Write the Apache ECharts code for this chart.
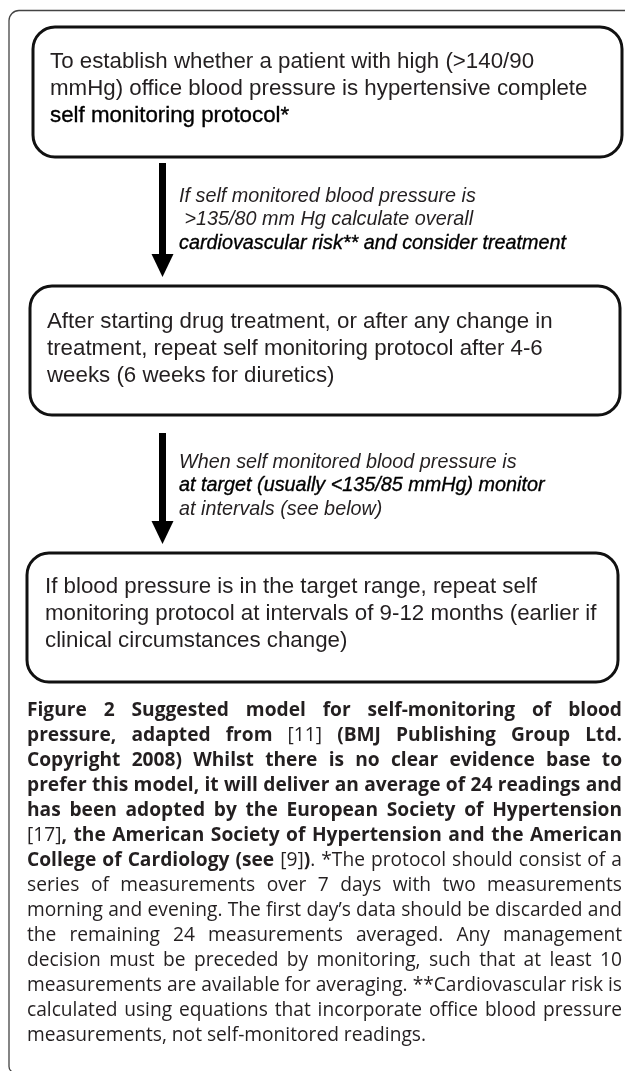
<!DOCTYPE html>
<html>
<head>
<meta charset="utf-8">
<script src="https://cdn.jsdelivr.net/npm/echarts@6/dist/echarts.min.js"></script>
<style>
html,body{margin:0;padding:0;background:#fff}
#main{width:625px;height:1071px}
</style>
</head>
<body>
<div id="main"></div>
<script>
/* texts of the flow chart */
var box1Lines = ['To establish whether a patient with high (>140/90', 'mmHg) office blood pressure is hypertensive complete', 'self monitoring protocol*'];
var box1Strong = [2];
var note1Lines = ['If self monitored blood pressure is', ' >135/80 mm Hg calculate overall', 'cardiovascular risk** and consider treatment'];
var note1Strong = [2];
var box2Lines = ['After starting drug treatment, or after any change in', 'treatment, repeat self monitoring protocol after 4-6', 'weeks (6 weeks for diuretics)'];
var box2Strong = [];
var note2Lines = ['When self monitored blood pressure is', 'at target (usually <135/85 mmHg) monitor', 'at intervals (see below)'];
var note2Strong = [1];
var box3Lines = ['If blood pressure is in the target range, repeat self', 'monitoring protocol at intervals of 9-12 months (earlier if', 'clinical circumstances change)'];
var box3Strong = [];

/* caption, b = bold, r = regular */
var captionLines = [
	[['b', 'Figure 2 Suggested model for self-monitoring of blood']],
	[['b', 'pressure, adapted from '], ['r', '[11]'], ['b', ' (BMJ Publishing Group Ltd.']],
	[['b', 'Copyright 2008) Whilst there is no clear evidence base to']],
	[['b', 'prefer this model, it will deliver an average of 24 readings and']],
	[['b', 'has been adopted by the European Society of Hypertension']],
	[['r', '[17]'], ['b', ', the American Society of Hypertension and the American']],
	[['b', 'College of Cardiology (see '], ['r', '[9]'], ['b', ')'], ['r', '. *The protocol should consist of a']],
	[['r', 'series of measurements over 7 days with two measurements']],
	[['r', 'morning and evening. The first day\u2019s data should be discarded and']],
	[['r', 'the remaining 24 measurements averaged. Any management']],
	[['r', 'decision must be preceded by monitoring, such that at least 10']],
	[['r', 'measurements are available for averaging. **Cardiovascular risk is']],
	[['r', 'calculated using equations that incorporate office blood pressure']],
	[['r', 'measurements, not self-monitored readings.']]
];

var ink = '#231f20';
var els = [];

/* 外框 */
els.push({type: 'rect', shape: {x: 9, y: 10.5, width: 700, height: 1062, r: [10, 0, 0, 6]},
	style: {fill: 'none', stroke: '#444', lineWidth: 1.3}});

function box(x, y, w, h){
	els.push({type: 'rect', shape: {x: x, y: y, width: w, height: h, r: 22},
		style: {fill: '#fff', stroke: '#111', lineWidth: 3}});
}
function arrow(cx, y1, y2){
	var headH = 23, headW = 22, shaftW = 7;
	els.push({type: 'rect', shape: {x: cx - shaftW / 2, y: y1, width: shaftW, height: y2 - headH - y1 + 1},
		style: {fill: '#000'}});
	els.push({type: 'polygon', shape: {points: [[cx - headW / 2, y2 - headH], [cx + headW / 2, y2 - headH], [cx, y2]]},
		style: {fill: '#000'}});
}
function lines(arr, strong, x, y0, dy, font){
	for (var i = 0; i < arr.length; i++) {
		var st = strong.indexOf(i) >= 0;
		els.push({type: 'text', x: x, y: y0 + i * dy, style: {
			text: arr[i], font: font, fill: st ? '#000' : ink,
			stroke: st ? '#000' : null, lineWidth: st ? 0.35 : 0,
			align: 'left', verticalAlign: 'middle', textAlign: 'left', textVerticalAlign: 'middle'}});
	}
}

var boxFont = '22.3px "Liberation Sans", Arial, sans-serif';
var noteFont = 'italic 19.8px "Liberation Sans", Arial, sans-serif';

box(33, 27, 589, 130);
lines(box1Lines, box1Strong, 50, 62, 26.7, boxFont);
arrow(162.5, 163, 277);
lines(note1Lines, note1Strong, 179, 196, 23.5, noteFont);

box(30, 286, 590, 129);
lines(box2Lines, box2Strong, 47, 322, 26.7, boxFont);
arrow(162.5, 433, 544);
lines(note2Lines, note2Strong, 179, 462, 23.5, noteFont);

box(27, 553, 591, 129);
lines(box3Lines, box3Strong, 45, 587, 26.7, boxFont);

/* 图注两端对齐 */
var ctx = document.createElement('canvas').getContext('2d');
function capFont(w, size){
	return (w === 'b' ? 'bold ' : '') + size + 'px "Open Sans", sans-serif';
}
function width(w, t, size){
	ctx.font = capFont(w, size);
	return ctx.measureText(t).width;
}
function splitWords(segs){
	var words = [], cur = [];
	segs.forEach(function(s){
		var parts = s[1].split(' ');
		parts.forEach(function(p, j){
			if (j > 0 && cur.length) { words.push(cur); cur = []; }
			if (p !== '') cur.push([s[0], p]);
		});
	});
	if (cur.length) words.push(cur);
	return words;
}
var capX = 27, capW = 595, capY0 = 711, capDy = 25;
var capWords = captionLines.map(splitWords);
var fs = 100;
capWords.forEach(function(words){
	var nat = 0;
	words.forEach(function(wd, k){
		wd.forEach(function(p){ nat += width(p[0], p[1], 10); });
		if (k) nat += width(wd[0][0], ' ', 10);
	});
	fs = Math.min(fs, 10 * capW / nat);
});
capWords.forEach(function(words, li){
	var ws = words.map(function(wd){
		return wd.reduce(function(a, p){ return a + width(p[0], p[1], fs); }, 0);
	});
	var sum = ws.reduce(function(a, b){ return a + b; }, 0);
	var last = li === capWords.length - 1;
	var gap = last ? width('r', ' ', fs) : (capW - sum) / (words.length - 1);
	var x = capX;
	words.forEach(function(wd, k){
		var px = x;
		wd.forEach(function(p){
			els.push({type: 'text', x: px, y: capY0 + li * capDy, style: {
				text: p[1], font: capFont(p[0], fs), fill: ink,
				align: 'left', verticalAlign: 'middle', textAlign: 'left', textVerticalAlign: 'middle'}});
			px += width(p[0], p[1], fs);
		});
		x += ws[k] + gap;
	});
});

var myChart = echarts.init(document.getElementById('main'));
myChart.setOption({
	animation: false,
	graphic: {elements: els}
});
</script>
</body>
</html>
